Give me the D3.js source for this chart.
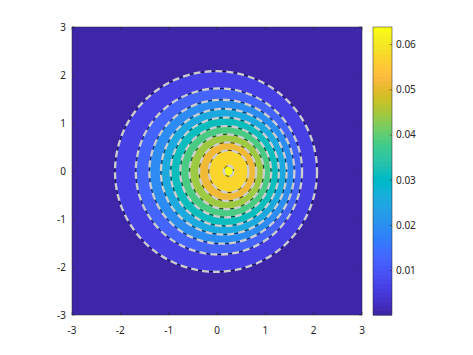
<!DOCTYPE html>
<html>
<head>
<meta charset="utf-8">
<script src="https://cdn.jsdelivr.net/npm/d3@7/dist/d3.min.js"></script>
<style>
  html, body { margin: 0; padding: 0; background: #ffffff; }
  svg { display: block; }
  text { font-family: "Noto Sans", "Liberation Sans", Arial, sans-serif; font-size: 10px; fill: #262626; }
</style>
</head>
<body>
<script>
// ---------- data ----------
const xTicks = [-3, -2, -1, 0, 1, 2, 3];
const yTicks = [-3, -2, -1, 0, 1, 2, 3];
const cbTicks = [0.01, 0.02, 0.03, 0.04, 0.05, 0.06];
const cRange = [0.00015, 0.0639];          // colour limits (colorbar)
const bgValue = 0.00015;                    // value of the area outside all contours
// contour levels, from outermost to innermost
const levels  = [0.0066, 0.0129, 0.0193, 0.0257, 0.0320, 0.0384, 0.0448, 0.0511, 0.0575, 0.0639];
// each contour traced as a near-circle: centre and radii in data units
const ringCx  = [-0.02, 0.04, 0.10, 0.14, 0.16, 0.18, 0.20, 0.22, 0.24, 0.24];
const ringCy  = [-0.01, -0.01, -0.015, -0.015, -0.015, -0.015, -0.015, -0.015, -0.01, 0.0];
const ringRx  = [2.09, 1.72, 1.50, 1.30, 1.12, 0.94, 0.77, 0.59, 0.41, 0.10];
const ringRy  = [2.09, 1.73, 1.50, 1.31, 1.13, 0.95, 0.78, 0.61, 0.44, 0.11];

// ---------- parula colormap (64 entries) ----------
const parula = [
[0.2422,0.1504,0.6603],[0.2504,0.1650,0.7076],[0.2578,0.1818,0.7511],[0.2647,0.1978,0.7952],
[0.2706,0.2147,0.8364],[0.2751,0.2342,0.8710],[0.2783,0.2559,0.8991],[0.2803,0.2782,0.9221],
[0.2813,0.3006,0.9414],[0.2810,0.3228,0.9579],[0.2795,0.3447,0.9717],[0.2760,0.3667,0.9829],
[0.2699,0.3892,0.9906],[0.2602,0.4123,0.9952],[0.2440,0.4358,0.9988],[0.2206,0.4603,0.9973],
[0.1963,0.4847,0.9892],[0.1834,0.5074,0.9798],[0.1786,0.5289,0.9682],[0.1764,0.5499,0.9520],
[0.1687,0.5703,0.9359],[0.1540,0.5902,0.9218],[0.1460,0.6091,0.9079],[0.1380,0.6276,0.8973],
[0.1248,0.6459,0.8883],[0.1113,0.6635,0.8763],[0.0952,0.6798,0.8598],[0.0689,0.6948,0.8394],
[0.0297,0.7082,0.8163],[0.0036,0.7203,0.7917],[0.0067,0.7312,0.7660],[0.0433,0.7411,0.7394],
[0.0964,0.7500,0.7120],[0.1408,0.7584,0.6842],[0.1717,0.7670,0.6554],[0.1938,0.7758,0.6251],
[0.2161,0.7843,0.5923],[0.2470,0.7918,0.5567],[0.2906,0.7973,0.5188],[0.3406,0.8008,0.4789],
[0.3909,0.8029,0.4354],[0.4456,0.8024,0.3909],[0.5044,0.7993,0.3480],[0.5616,0.7942,0.3045],
[0.6174,0.7876,0.2612],[0.6720,0.7793,0.2227],[0.7242,0.7698,0.1910],[0.7738,0.7598,0.1646],
[0.8203,0.7498,0.1535],[0.8634,0.7406,0.1596],[0.9035,0.7330,0.1774],[0.9393,0.7288,0.2100],
[0.9728,0.7298,0.2394],[0.9956,0.7434,0.2371],[0.9970,0.7659,0.2199],[0.9952,0.7893,0.2028],
[0.9892,0.8136,0.1885],[0.9786,0.8386,0.1766],[0.9676,0.8639,0.1643],[0.9610,0.8890,0.1537],
[0.9597,0.9135,0.1423],[0.9628,0.9373,0.1265],[0.9691,0.9606,0.1064],[0.9769,0.9839,0.0805]
].map(c => d3.rgb(c[0]*255, c[1]*255, c[2]*255).formatHex());

// ---------- layout ----------
const W = 473, H = 355;
const plot = { left: 72, right: 362, top: 27, bottom: 315 };
const cb = { left: 373, right: 392, top: 27, bottom: 315 };

const x = d3.scaleLinear().domain([-3, 3]).range([plot.left, plot.right]);
const y = d3.scaleLinear().domain([-3, 3]).range([plot.bottom, plot.top]);
const color = d3.scaleQuantize().domain(cRange).range(parula);
const yc = d3.scaleLinear().domain(cRange).range([cb.bottom, cb.top]);

const svg = d3.select("body").append("svg").attr("width", W).attr("height", H);

svg.append("clipPath").attr("id", "clip")
  .append("rect")
  .attr("x", plot.left).attr("y", plot.top)
  .attr("width", plot.right - plot.left).attr("height", plot.bottom - plot.top);

const g = svg.append("g").attr("clip-path", "url(#clip)");

// background band
g.append("rect")
  .attr("x", plot.left).attr("y", plot.top)
  .attr("width", plot.right - plot.left).attr("height", plot.bottom - plot.top)
  .attr("fill", color(bgValue));

const rings = levels.map((v, i) => ({ v, cx: ringCx[i], cy: ringCy[i], rx: ringRx[i], ry: ringRy[i] }));

// filled bands (outer to inner)
g.selectAll("ellipse.band").data(rings).join("ellipse")
  .attr("class", "band")
  .attr("cx", d => x(d.cx)).attr("cy", d => y(d.cy))
  .attr("rx", d => x(d.cx + d.rx) - x(d.cx))
  .attr("ry", d => y(d.cy) - y(d.cy + d.ry))
  .attr("fill", d => color(d.v));

// thin black contour lines
g.selectAll("ellipse.line").data(rings).join("ellipse")
  .attr("class", "line")
  .attr("cx", d => x(d.cx)).attr("cy", d => y(d.cy))
  .attr("rx", d => x(d.cx + d.rx) - x(d.cx))
  .attr("ry", d => y(d.cy) - y(d.cy + d.ry))
  .attr("fill", "none").attr("stroke", "#000").attr("stroke-width", 0.7);

// light grey dashed overlay
g.selectAll("ellipse.dash").data(rings).join("ellipse")
  .attr("class", "dash")
  .attr("cx", d => x(d.cx)).attr("cy", d => y(d.cy))
  .attr("rx", d => x(d.cx + d.rx) - x(d.cx))
  .attr("ry", d => y(d.cy) - y(d.cy + d.ry))
  .attr("fill", "none").attr("stroke", "#cdcdcd").attr("stroke-width", 2.3)
  .attr("stroke-dasharray", "7,4");

// axes box & ticks (inward)
const axisCol = "#262626";
const ax = svg.append("g");
ax.append("rect")
  .attr("x", plot.left).attr("y", plot.top)
  .attr("width", plot.right - plot.left).attr("height", plot.bottom - plot.top)
  .attr("fill", "none").attr("stroke", axisCol).attr("stroke-width", 0.5);

const tl = 3;
ax.selectAll("line.xb").data(xTicks).join("line")
  .attr("x1", d => x(d)).attr("x2", d => x(d))
  .attr("y1", plot.bottom).attr("y2", plot.bottom - tl)
  .attr("stroke", axisCol).attr("stroke-width", 0.5);
ax.selectAll("line.xt").data(xTicks).join("line")
  .attr("x1", d => x(d)).attr("x2", d => x(d))
  .attr("y1", plot.top).attr("y2", plot.top + tl)
  .attr("stroke", axisCol).attr("stroke-width", 0.5);
ax.selectAll("line.yl").data(yTicks).join("line")
  .attr("x1", plot.left).attr("x2", plot.left + tl)
  .attr("y1", d => y(d)).attr("y2", d => y(d))
  .attr("stroke", axisCol).attr("stroke-width", 0.5);
ax.selectAll("line.yr").data(yTicks).join("line")
  .attr("x1", plot.right).attr("x2", plot.right - tl)
  .attr("y1", d => y(d)).attr("y2", d => y(d))
  .attr("stroke", axisCol).attr("stroke-width", 0.5);

ax.selectAll("text.xl").data(xTicks).join("text")
  .attr("x", d => x(d)).attr("y", 334)
  .attr("text-anchor", "middle")
  .text(d => String(d));
ax.selectAll("text.yl").data(yTicks).join("text")
  .attr("x", 66).attr("y", d => y(d) + 3.5)
  .attr("text-anchor", "end")
  .text(d => String(d));

// colorbar
const cbG = svg.append("g");
const nC = parula.length;
const step = (cRange[1] - cRange[0]) / nC;
cbG.selectAll("rect.c").data(d3.range(nC)).join("rect")
  .attr("x", cb.left).attr("width", cb.right - cb.left)
  .attr("y", i => yc(cRange[0] + (i + 1) * step))
  .attr("height", i => yc(cRange[0] + i * step) - yc(cRange[0] + (i + 1) * step) + 0.5)
  .attr("fill", i => parula[i]);
cbG.append("rect")
  .attr("x", cb.left).attr("y", cb.top)
  .attr("width", cb.right - cb.left).attr("height", cb.bottom - cb.top)
  .attr("fill", "none").attr("stroke", axisCol).attr("stroke-width", 0.5);
cbG.selectAll("line.t").data(cbTicks).join("line")
  .attr("x1", cb.right).attr("x2", cb.right - 2.5)
  .attr("y1", d => yc(d)).attr("y2", d => yc(d))
  .attr("stroke", axisCol).attr("stroke-width", 0.5);
cbG.selectAll("text.t").data(cbTicks).join("text")
  .attr("x", 396).attr("y", d => yc(d) + 3.5)
  .text(d => d3.format(".2f")(d));
</script>
</body>
</html>
